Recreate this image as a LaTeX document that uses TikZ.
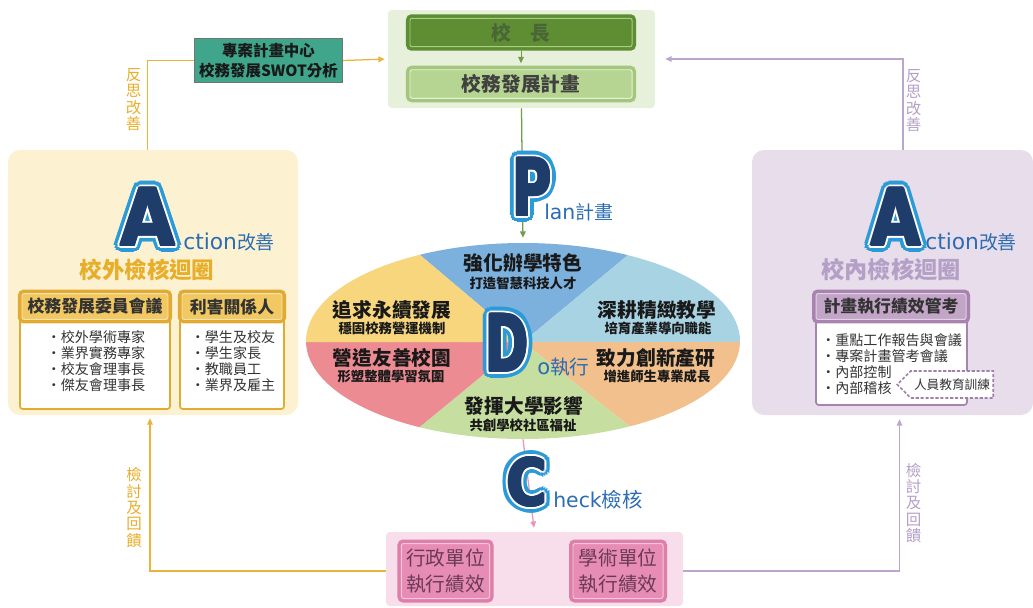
\documentclass[tikz,border=0pt]{standalone}
\usepackage{fontspec}
\setmainfont{Noto Sans CJK TC}
\newfontfamily\letterfont{DejaVu Sans}
\usetikzlibrary{calc, positioning, arrows.meta, shapes.geometric, shapes.symbols}

\definecolor{navy}{HTML}{1F3D6B}
\definecolor{letterblue}{HTML}{2D9AD8}
\definecolor{txtblue}{HTML}{2B6CB3}
\definecolor{goldline}{HTML}{E9B43C}
\definecolor{goldtext}{HTML}{E8AE2A}
\definecolor{panelyellow}{HTML}{FCF1D1}
\definecolor{hdrgold}{HTML}{E0AA33}
\definecolor{hdrgoldin}{HTML}{F1C862}
\definecolor{purpleline}{HTML}{BBA7CC}
\definecolor{purpletext}{HTML}{B49FC6}
\definecolor{panelpurple}{HTML}{E7DDEB}
\definecolor{hdrpurple}{HTML}{A883AF}
\definecolor{hdrpurplein}{HTML}{C3A5C8}
\definecolor{dashpurple}{HTML}{A27FAA}
\definecolor{plangreen}{HTML}{E7F0DA}
\definecolor{darkgreen}{HTML}{5E8D34}
\definecolor{greenedge}{HTML}{A9CE82}
\definecolor{midgreen}{HTML}{A3C77C}
\definecolor{lightgreen}{HTML}{B7D592}
\definecolor{greenline}{HTML}{6F9B4B}
\definecolor{headtext}{HTML}{4B6636}
\definecolor{swotteal}{HTML}{3FA68B}
\definecolor{pinkbg}{HTML}{F8DDEA}
\definecolor{pinkbox}{HTML}{E78CB4}
\definecolor{pinkdeep}{HTML}{DE7EAA}
\definecolor{pinkedge}{HTML}{F6C8DB}
\definecolor{pinkline}{HTML}{E996B8}
\definecolor{pinktext}{HTML}{6B3A57}
\definecolor{secblue}{HTML}{7DB1DD}
\definecolor{seccyan}{HTML}{A7D3E2}
\definecolor{secorange}{HTML}{F2C08C}
\definecolor{secgreen}{HTML}{C6DFA0}
\definecolor{secred}{HTML}{EC8B92}
\definecolor{secyellow}{HTML}{F8D67E}

\newcommand{\fsz}[2]{\fontsize{#1}{#2}\selectfont}
% big PDCA letter with light blue and white outline
\newcommand{\pdca}[4]{%
  \foreach \ang in {0,22.5,...,337.5}
    {\node[bigletter=#3, text=letterblue] at ([shift={(\ang:4.8pt)}]#1) {\scalebox{#4}[1]{#2}};}
  \foreach \ang in {0,30,...,330}
    {\node[bigletter=#3, text=white] at ([shift={(\ang:2.2pt)}]#1) {\scalebox{#4}[1]{#2}};}
  \foreach \ang in {0,45,...,315}
    {\node[bigletter=#3, text=navy] at ([shift={(\ang:0.9pt)}]#1) {\scalebox{#4}[1]{#2}};}}

\begin{document}
\begin{tikzpicture}[x=0.25mm, y=-0.25mm, >={Triangle[length=4.5pt,width=4pt]},
    panel/.style={rounded corners=3mm, inner sep=0},
    framed/.style={rounded corners=1.5pt, line width=0.7pt, preaction={draw=#1, line width=5.7pt}},
    listbox/.style={rounded corners=2pt, fill=white, line width=1.2pt},
    bigletter/.style={inner sep=0, font=\letterfont\bfseries\fsz{#1}{#1}},
    sectitle/.style={inner sep=0, text=black!90, font=\bfseries\fsz{14pt}{16pt}},
    secsub/.style={inner sep=0, text=black!90, font=\bfseries\fsz{9.5pt}{11pt}},
    items/.style={inner sep=0, align=left, text=black!80, font=\fsz{10pt}{11.4pt}},
    vtext/.style={inner sep=0, align=center, font=\fsz{11pt}{11.6pt}},
    pdcatext/.style={anchor=base west, inner sep=0, text=txtblue},
    link/.style={line width=0.9pt}]
  \useasboundingbox (0,0) rectangle (1033,607);

  % panels %
  \node[panel, fill=panelyellow, minimum width=72.5mm, minimum height=66.25mm] (lpanel) at (153,282.5) {};
  \node[panel, fill=panelpurple, minimum width=70.25mm, minimum height=66.25mm] (rpanel) at (892.5,282.5) {};
  \node[fill=plangreen, rounded corners=1mm, minimum width=66.75mm, minimum height=24.5mm] (plan) at (521.5,59) {};
  \node[fill=pinkbg, rounded corners=1mm, minimum width=74.25mm, minimum height=18.5mm] (check) at (534.5,569) {};

  % top boxes %
  \node[framed=darkgreen, fill=darkgreen, draw=greenedge, minimum width=55.5mm, minimum height=5.75mm,
        text=headtext, font=\bfseries\fsz{14pt}{16pt}] (head) at (521,32.5) {校\quad 長};
  \node[framed=midgreen, fill=lightgreen, draw=plangreen, minimum width=55.5mm, minimum height=6mm,
        text=black!75, font=\bfseries\fsz{14pt}{16pt}] (devplan) at (521,84) {校務發展計畫};
  \node[fill=swotteal, draw=black!55, line width=0.8pt, minimum width=36.25mm, minimum height=10.75mm,
        align=center, text=black!90, font=\bfseries\fsz{11pt}{14pt}] (swot) at (268.5,60.5) {專案計畫中心\\校務發展SWOT分析};

  % do ellipse %
  \begin{scope}
    \clip (523,341) ellipse (54.25mm and 24.5mm);
    \coordinate (o) at (523,342);
    \fill[secblue] (o) -- (214,81) -- (838,81) -- cycle;
    \fill[seccyan] (o) -- (838,81) -- (1000,81) -- (1000,342) -- cycle;
    \fill[secorange] (o) -- (1000,342) -- (1000,600) -- (838,591) -- cycle;
    \fill[secgreen] (o) -- (838,591) -- (220,591) -- cycle;
    \fill[secred] (o) -- (220,591) -- (40,600) -- (40,342) -- cycle;
    \fill[secyellow] (o) -- (40,342) -- (40,81) -- (214,81) -- cycle;
  \end{scope}
  \node[ellipse, minimum width=108.5mm, minimum height=49mm, inner sep=0] (do) at (523,341) {};

  \node[sectitle] (t1) at (523,263) {強化辦學特色};
  \node[secsub] (s1) at (523,283) {打造智慧科技人才};
  \node[sectitle] (t2) at (392,310) {追求永續發展};
  \node[secsub] (s2) at (392,328) {穩固校務營運機制};
  \node[sectitle] (t3) at (657,310) {深耕精緻教學};
  \node[secsub] (s3) at (658,328) {培育產業導向職能};
  \node[sectitle] (t4) at (392,358) {營造友善校園};
  \node[secsub] (s4) at (391,376) {形塑整體學習氛圍};
  \node[sectitle] (t5) at (656,358) {致力創新產研};
  \node[secsub] (s5) at (657,376) {增進師生專業成長};
  \node[sectitle] (t6) at (524,406) {發揮大學影響};
  \node[secsub] (s6) at (523,425) {共創學校社區福祉};

  % bottom boxes %
  \node[framed=pinkdeep, fill=pinkbox, draw=pinkedge, minimum width=21.75mm, minimum height=13.75mm,
        align=center, text=pinktext, font=\fsz{14pt}{19pt}] (admin) at (445.5,571) {行政單位\\執行績效};
  \node[framed=pinkdeep, fill=pinkbox, draw=pinkedge, minimum width=22.5mm, minimum height=13.75mm,
        align=center, text=pinktext, font=\fsz{14pt}{19pt}] (acad) at (618,571) {學術單位\\執行績效};

  % left panel %
  \node[listbox, draw=hdrgold, minimum width=37.5mm, minimum height=27mm] (comlist) at (95,355) {};
  \node[listbox, draw=hdrgold, minimum width=26mm, minimum height=27mm] (rellist) at (232,355) {};
  \node[framed=hdrgold, fill=hdrgoldin, draw=hdrgoldin!50!white, minimum width=36.5mm, minimum height=6.25mm,
        text=black!80, font=\bfseries\fsz{12pt}{14pt}] (comhdr) at (95,306.5) {校務發展委員會議};
  \node[framed=hdrgold, fill=hdrgoldin, draw=hdrgoldin!50!white, minimum width=25mm, minimum height=6.25mm,
        text=black!80, font=\bfseries\fsz{12pt}{14pt}] (relhdr) at (232,306.5) {利害關係人};
  \node[items] (comitems) at (96,361.5) {・校外學術專家\\・業界實務專家\\・校友會理事長\\・傑友會理事長};
  \node[items] (relitems) at (233,361.5) {・學生及校友\\・學生家長\\・教職員工\\・業界及雇主};
  \node[text=goldtext, font=\bfseries\fsz{16pt}{18pt}] (outloop) at (147,270) {校外檢核迴圈};

  % right panel %
  \node[listbox, draw=hdrpurple, minimum width=37.75mm, minimum height=26mm] (perflist) at (891.5,353) {};
  \node[framed=hdrpurple, fill=hdrpurplein, draw=hdrpurplein!50!white, minimum width=37.5mm, minimum height=6mm,
        text=black!80, font=\bfseries\fsz{12pt}{14pt}] (perfhdr) at (891,306.5) {計畫執行績效管考};
  \node[items, anchor=west] (perfitems) at (821,364) {・重點工作報告與會議\\・專案計畫管考會議\\・內部控制\\・內部稽核};
  \node[signal, signal to=west, draw=dashpurple, dash pattern=on 2.2pt off 1.3pt, line width=1.2pt, fill=white,
        minimum width=24mm, minimum height=6.75mm, inner sep=1pt, text=black!80, font=\fsz{9pt}{10pt}] (train) at (952,384.5) {人員教育訓練};
  \node[text=purpletext, font=\bfseries\fsz{16.5pt}{18pt}] (inloop) at (891,270) {校內檢核迴圈};

  % edges %
  \draw[link, goldline] ([xshift=-1.4mm]lpanel.north) |- (swot.west);
  \draw[link, goldline, ->, shorten >=0.75mm] (swot.east) -- (plan.west);
  \draw[link, purpleline, ->, shorten >=2.5mm] ([xshift=2.6mm]rpanel.north) |- (plan.east);
  \draw[link, greenline, ->, line width=0.7pt, shorten <=1mm, shorten >=1.5mm] (head.south) -- (devplan.north);
  \draw[link, greenline, ->, shorten >=1.25mm] (plan.south) -- (do.north);
  \draw[link, pinkline, ->, shorten >=1mm] (do.south) -- (check.north);
  \draw[link, goldline, ->, shorten >=0.75mm] (admin.west -| check.west) -| ([xshift=-0.75mm]lpanel.south);
  \draw[link, purpleline, ->, shorten >=1mm] (acad.east -| check.east) -| ([xshift=1.75mm]rpanel.south);

  \node[vtext, text=goldtext] (lreflect) at (133.5,99.5) {反\\思\\改\\善};
  \node[vtext, text=purpletext] (rreflect) at (913.5,100.5) {反\\思\\改\\善};
  \node[vtext, text=goldtext] (lreview) at (134,507.5) {檢\\討\\及\\回\\饋};
  \node[vtext, text=purpletext] (rreview) at (913.5,503) {檢\\討\\及\\回\\饋};

  % pdca letters %
  \coordinate (Aleft) at (148,217);
  \coordinate (Aright) at (896,217);
  \coordinate (Pl) at (532,187);
  \coordinate (Dl) at (507,343);
  \coordinate (Cl) at (527,482);
  \pdca{Aleft}{A}{56pt}{0.9}
  \pdca{Aright}{A}{56pt}{0.82}
  \pdca{Pl}{P}{56pt}{0.68}
  \pdca{Dl}{D}{56pt}{0.66}
  \pdca{Cl}{C}{46pt}{0.84}
  \node[pdcatext, font=\fsz{13.5pt}{15pt}] (lact) at (183,249) {{\letterfont\fsz{15.5pt}{16pt}ction}改善};
  \node[pdcatext, font=\fsz{13.5pt}{15pt}] (ract) at (925,249) {{\letterfont\fsz{15.5pt}{16pt}ction}改善};
  \node[pdcatext, font=\fsz{13.5pt}{15pt}] (plantxt) at (544,219) {{\letterfont\fsz{14.5pt}{16pt}lan}計畫};
  \node[pdcatext, font=\fsz{14pt}{15pt}] (dotxt) at (537,374) {{\letterfont\fsz{15pt}{16pt}o}執行};
  \node[pdcatext, font=\fsz{14.5pt}{15pt}] (checktxt) at (553,507) {{\letterfont\fsz{14.5pt}{16pt}heck}檢核};
\end{tikzpicture}
\end{document}
